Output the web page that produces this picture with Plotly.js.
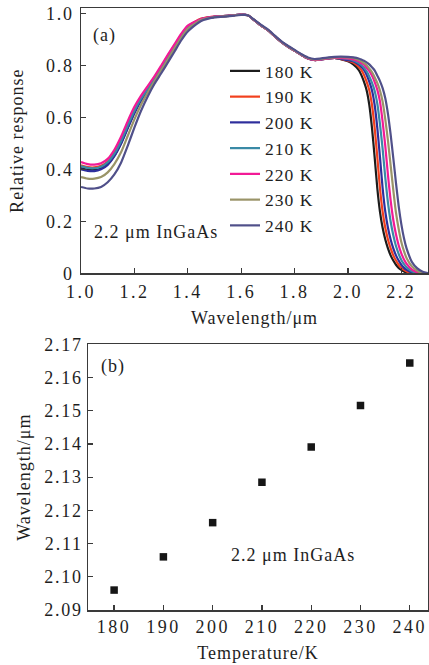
<!DOCTYPE html>
<html>
<head>
<meta charset="utf-8">
<script src="https://cdn.plot.ly/plotly-3.0.1.min.js"></script>
<style>
html,body{margin:0;padding:0;background:#fff;}
#chart{width:429px;height:665px;}
text{letter-spacing:1px;}
.xtick text, .x2tick text{letter-spacing:2.5px;}
.ytick text, .y2tick text{letter-spacing:1.8px;}
</style>
</head>
<body>
<div id="chart"></div>
<script>
// ---- Panel (a): relative response spectra ----
var wavelength = [1.00,1.025,1.05,1.075,1.10,1.125,1.15,1.175,1.20,1.225,1.25,1.275,1.30,1.325,1.35,1.375,1.40,1.45,1.50,1.55,1.60,1.625,1.65,1.675,1.70,1.725,1.75,1.775,1.80,1.825,1.85,1.875,1.90,1.95,2.00,2.02,2.04,2.05,2.06,2.07,2.08,2.09,2.10,2.11,2.12,2.13,2.14,2.15,2.16,2.17,2.18,2.19,2.20,2.21,2.22,2.24,2.26,2.28,2.30];

var resp180 = [0.405,0.398,0.397,0.403,0.42,0.453,0.50,0.56,0.618,0.667,0.706,0.745,0.787,0.83,0.871,0.912,0.946,0.977,0.986,0.99,0.995,0.992,0.972,0.952,0.935,0.912,0.89,0.872,0.856,0.84,0.826,0.82,0.822,0.828,
  0.815,0.803,0.782,0.763,0.737,0.704,0.648,0.56,0.448,0.328,0.237,0.175,0.13,0.096,0.069,0.049,0.033,0.021,0.013,0.007,0.003,0,0,0,0];
var resp190 = [0.415,0.408,0.407,0.413,0.43,0.464,0.513,0.573,0.63,0.677,0.715,0.752,0.793,0.836,0.876,0.916,0.95,0.979,0.987,0.99,0.995,0.992,0.972,0.952,0.935,0.912,0.89,0.872,0.856,0.84,0.826,0.82,0.822,0.828,
  0.817,0.81,0.794,0.782,0.763,0.737,0.704,0.648,0.56,0.448,0.328,0.237,0.175,0.13,0.096,0.069,0.049,0.033,0.021,0.013,0.007,0.001,0,0,0];
var resp200 = [0.40,0.394,0.393,0.40,0.417,0.45,0.498,0.557,0.615,0.665,0.704,0.743,0.785,0.828,0.869,0.91,0.944,0.976,0.986,0.99,0.995,0.992,0.972,0.952,0.935,0.912,0.89,0.872,0.856,0.84,0.826,0.82,0.822,0.828,
  0.819,0.815,0.803,0.794,0.782,0.763,0.737,0.704,0.648,0.56,0.448,0.328,0.237,0.175,0.13,0.096,0.069,0.049,0.033,0.021,0.013,0.003,0,0,0];
var resp210 = [0.412,0.405,0.404,0.41,0.427,0.46,0.508,0.568,0.625,0.672,0.71,0.748,0.79,0.832,0.873,0.913,0.947,0.977,0.986,0.99,0.995,0.992,0.972,0.952,0.935,0.912,0.89,0.872,0.856,0.84,0.826,0.82,0.822,0.828,
  0.824,0.818,0.808,0.801,0.79,0.776,0.757,0.733,0.702,0.653,0.574,0.478,0.368,0.272,0.199,0.146,0.105,0.075,0.051,0.035,0.023,0.008,0.001,0,0];
var resp220 = [0.428,0.42,0.418,0.423,0.44,0.475,0.525,0.585,0.64,0.683,0.72,0.757,0.798,0.84,0.88,0.92,0.952,0.978,0.987,0.99,0.995,0.992,0.972,0.952,0.935,0.912,0.89,0.872,0.856,0.84,0.826,0.82,0.822,0.828,
  0.826,0.822,0.815,0.808,0.802,0.79,0.778,0.76,0.736,0.706,0.661,0.583,0.489,0.378,0.28,0.205,0.15,0.108,0.077,0.053,0.036,0.014,0.004,0,0];
var resp230 = [0.37,0.364,0.364,0.37,0.388,0.42,0.465,0.528,0.592,0.648,0.695,0.738,0.78,0.822,0.864,0.905,0.94,0.974,0.985,0.989,0.994,0.992,0.973,0.953,0.936,0.913,0.891,0.873,0.857,0.841,0.828,0.822,0.824,0.83,
  0.83,0.828,0.82,0.815,0.808,0.80,0.787,0.774,0.754,0.732,0.703,0.66,0.592,0.51,0.415,0.32,0.233,0.171,0.12,0.085,0.058,0.026,0.01,0.001,0];
var resp240 = [0.332,0.326,0.326,0.332,0.35,0.38,0.425,0.49,0.56,0.625,0.68,0.728,0.768,0.81,0.852,0.895,0.93,0.97,0.984,0.988,0.993,0.992,0.974,0.955,0.938,0.915,0.893,0.875,0.859,0.843,0.83,0.824,0.826,0.832,
  0.832,0.83,0.826,0.822,0.817,0.811,0.803,0.792,0.78,0.76,0.739,0.712,0.673,0.613,0.534,0.443,0.348,0.259,0.189,0.135,0.095,0.043,0.019,0.006,0.001];

var seriesNames = ["180 K","190 K","200 K","210 K","220 K","230 K","240 K"];
var seriesColors = ["#1c1c1c","#f2401e","#2e2e9c","#3a8aa6","#f21a96","#9a9468","#50508a"];
var seriesData = [resp180,resp190,resp200,resp210,resp220,resp230,resp240];

var xTicksA = [1.0,1.2,1.4,1.6,1.8,2.0,2.2];
var xTickTextA = ["1.0","1.2","1.4","1.6","1.8","2.0","2.2"];
var yTicksA = [0,0.2,0.4,0.6,0.8,1.0];
var yTickTextA = ["0","0.2","0.4","0.6","0.8","1.0"];

// ---- Panel (b): cut-off wavelength vs temperature ----
var temperature = [180,190,200,210,220,230,240];
var cutoff = [2.096,2.106,2.1163,2.1285,2.1391,2.1516,2.1644];
var xTicksB = [180,190,200,210,220,230,240];
var yTicksB = [2.09,2.10,2.11,2.12,2.13,2.14,2.15,2.16,2.17];
var yTickTextB = ["2.09","2.10","2.11","2.12","2.13","2.14","2.15","2.16","2.17"];

var FONT = "Liberation Serif, Times New Roman, serif";
var TXT = "#1e1e1e";
var AX = "#3a3a3a";
var FS = 18;

var traces = [];
for (var i = 0; i < seriesData.length; i++) {
  traces.push({
    type: "scatter", mode: "lines",
    x: wavelength, y: seriesData[i],
    name: seriesNames[i],
    line: {color: seriesColors[i], width: 2.2, shape: "spline", smoothing: 0.6},
    xaxis: "x", yaxis: "y",
    showlegend: true
  });
}
traces.push({
  type: "scatter", mode: "markers",
  x: temperature, y: cutoff,
  marker: {symbol: "square", size: 7.5, color: "#161616"},
  xaxis: "x2", yaxis: "y2",
  showlegend: false
});

function axisBase() {
  return {
    showgrid: false, zeroline: false,
    showline: true, mirror: true, linecolor: AX, linewidth: 1.5,
    ticks: "inside", ticklen: 5, tickwidth: 1.3, tickcolor: AX,
    tickfont: {family: FONT, size: FS, color: TXT},
    automargin: false
  };
}

var xa = axisBase();
Object.assign(xa, {
  domain: [81/429, 428/429], anchor: "y", range: [1.0, 2.3],
  tickmode: "array", tickvals: xTicksA, ticktext: xTickTextA,
  ticklabelstandoff: 2,
  title: {text: "Wavelength/μm", font: {family: FONT, size: FS, color: TXT}, standoff: 10}
});
var ya = axisBase();
Object.assign(ya, {
  domain: [1 - 273.3/665, 1 - 8/665], anchor: "x", range: [0, 1.02],
  tickmode: "array", tickvals: yTicksA, ticktext: yTickTextA,
  ticklabelstandoff: 2,
  title: {text: "Relative response", font: {family: FONT, size: FS, color: TXT}, standoff: 17}
});
var xb = axisBase();
Object.assign(xb, {
  domain: [88/429, 428/429], anchor: "y2", range: [174.7, 243.7],
  tickmode: "array", tickvals: xTicksB,
  title: {text: "Temperature/K", font: {family: FONT, size: FS, color: TXT}, standoff: 10}
});
var yb = axisBase();
Object.assign(yb, {
  domain: [1 - 610/665, 1 - 344.3/665], anchor: "x2", range: [2.09, 2.17],
  tickmode: "array", tickvals: yTicksB, ticktext: yTickTextB,
  title: {text: "Wavelength/μm", font: {family: FONT, size: FS, color: TXT}, standoff: 9}
});

var layout = {
  width: 429, height: 665,
  margin: {l: 0, r: 0, t: 0, b: 0, pad: 0},
  paper_bgcolor: "#ffffff", plot_bgcolor: "#ffffff",
  font: {family: FONT, size: FS, color: TXT},
  showlegend: true,
  legend: {
    x: 225/429, y: 1 - 53/665, xanchor: "left", yanchor: "top",
    bgcolor: "rgba(0,0,0,0)", borderwidth: 0,
    font: {family: FONT, size: 17.5, color: TXT},
    itemwidth: 30, tracegroupgap: 0
  },
  xaxis: xa, yaxis: ya, xaxis2: xb, yaxis2: yb,
  annotations: [
    {xref: "x domain", yref: "y domain", x: 0.03, y: 0.898, xanchor: "left", yanchor: "middle",
     text: "(a)", showarrow: false, font: {family: FONT, size: FS, color: TXT}},
    {xref: "x domain", yref: "y domain", x: 0.033, y: 0.156, xanchor: "left", yanchor: "middle",
     text: "2.2 μm InGaAs", showarrow: false, font: {family: FONT, size: FS, color: TXT}},
    {xref: "x2 domain", yref: "y2 domain", x: 0.033, y: 0.915, xanchor: "left", yanchor: "middle",
     text: "(b)", showarrow: false, font: {family: FONT, size: FS, color: TXT}},
    {xref: "x2 domain", yref: "y2 domain", x: 0.415, y: 0.207, xanchor: "left", yanchor: "middle",
     text: "2.2 μm InGaAs", showarrow: false, font: {family: FONT, size: FS, color: TXT}}
  ]
};

Plotly.newPlot("chart", traces, layout, {staticPlot: true, displayModeBar: false});
</script>
</body>
</html>
